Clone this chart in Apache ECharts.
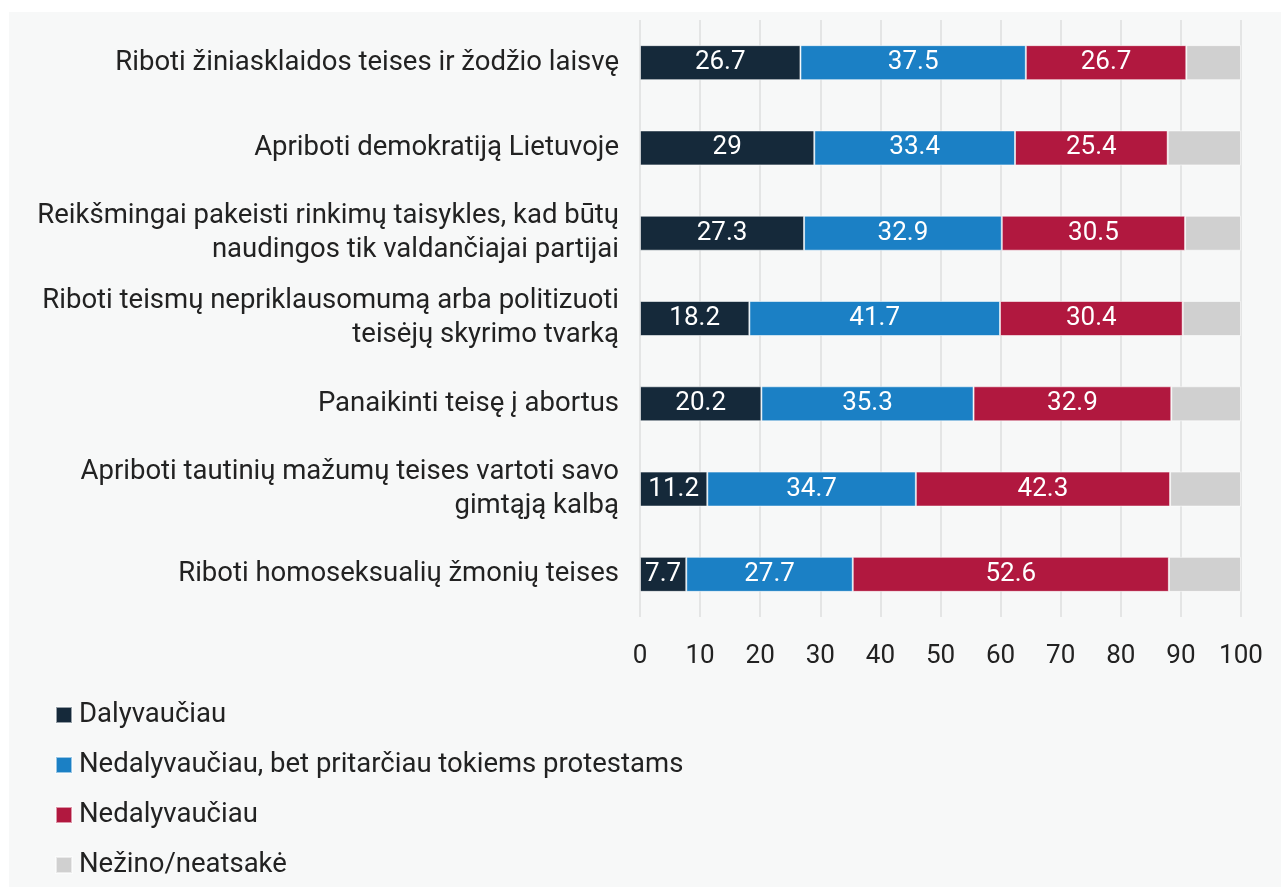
<!DOCTYPE html>
<html>
<head>
<meta charset="utf-8">
<script src="https://cdn.jsdelivr.net/npm/echarts@6/dist/echarts.min.js"></script>
<style>
  html, body { margin: 0; padding: 0; background: #ffffff; }
  #panel {
    position: absolute;
    left: 9px;
    top: 12px;
    width: 1272px;
    height: 875px;
    background: #f7f8f8;
  }
</style>
</head>
<body>
<div id="panel"></div>
<script>
// categories, top to bottom
const categories = [
  "Riboti žiniasklaidos teises ir žodžio laisvę",
  "Apriboti demokratiją Lietuvoje",
  "Reikšmingai pakeisti rinkimų taisykles, kad būtų\nnaudingos tik valdančiajai partijai",
  "Riboti teismų nepriklausomumą arba politizuoti\nteisėjų skyrimo tvarką",
  "Panaikinti teisę į abortus",
  "Apriboti tautinių mažumų teises vartoti savo\ngimtąją kalbą",
  "Riboti homoseksualių žmonių teises",
];

const seriesNames = [
  "Dalyvaučiau",
  "Nedalyvaučiau, bet pritarčiau tokiems protestams",
  "Nedalyvaučiau",
  "Nežino/neatsakė",
];

const participated = [26.7, 29, 27.3, 18.2, 20.2, 11.2, 7.7];
const supported = [37.5, 33.4, 32.9, 41.7, 35.3, 34.7, 27.7];
const notParticipated = [26.7, 25.4, 30.5, 30.4, 32.9, 42.3, 52.6];
const noAnswer = [9.1, 12.2, 9.3, 9.7, 11.6, 11.8, 12.0];

const tickValues = [0, 10, 20, 30, 40, 50, 60, 70, 80, 90, 100];

const colors = ["#15293a", "#1b80c5", "#b1183f", "#d0d0d0"];
const font = "Roboto";

const chart = echarts.init(document.getElementById("panel"));

function barSeries(name, data, color, showLabel) {
  return {
    name,
    type: "bar",
    stack: "total",
    barWidth: 35,
    data,
    itemStyle: { color, borderColor: "rgba(255,255,255,0.55)", borderWidth: 1 },
    label: {
      show: showLabel,
      position: "inside",
      color: "#ffffff",
      fontFamily: font,
      fontSize: 26,
      formatter: (p) => String(p.value),
    },
  };
}

function legendAt(name, top) {
  return {
    show: true,
    orient: "vertical",
    left: 46,
    top,
    padding: 0,
    data: [name],
    icon: "rect",
    itemWidth: 16,
    itemHeight: 16,
    itemGap: 0,
    selectedMode: false,
    textStyle: {
      fontFamily: font,
      fontSize: 27.5,
      lineHeight: 32,
      color: "#222222",
      padding: [0, 0, 0, 2],
    },
  };
}

chart.setOption({
  animation: false,
  color: colors,
  textStyle: { fontFamily: font },
  grid: { left: 631, right: 40, top: 8, bottom: 270 },
  legend: [
    legendAt(seriesNames[0], 687),
    legendAt(seriesNames[1], 737),
    legendAt(seriesNames[2], 787),
    legendAt(seriesNames[3], 837),
  ],
  xAxis: {
    type: "value",
    min: tickValues[0],
    max: tickValues[tickValues.length - 1],
    interval: 10,
    axisLine: { show: false },
    axisTick: { show: false },
    splitLine: { show: true, lineStyle: { color: "#e4e5e5", width: 2 } },
    axisLabel: { color: "#222222", fontFamily: font, fontSize: 26, margin: 26 },
  },
  yAxis: {
    type: "category",
    inverse: true,
    data: categories,
    axisLine: { show: false },
    axisTick: { show: false },
    axisLabel: {
      color: "#222222",
      fontFamily: font,
      fontSize: 27.5,
      lineHeight: 34,
      margin: 21,
      align: "right",
    },
  },
  series: [
    barSeries(seriesNames[0], participated, colors[0], true),
    barSeries(seriesNames[1], supported, colors[1], true),
    barSeries(seriesNames[2], notParticipated, colors[2], true),
    barSeries(seriesNames[3], noAnswer, colors[3], false),
  ],
});
</script>
</body>
</html>
